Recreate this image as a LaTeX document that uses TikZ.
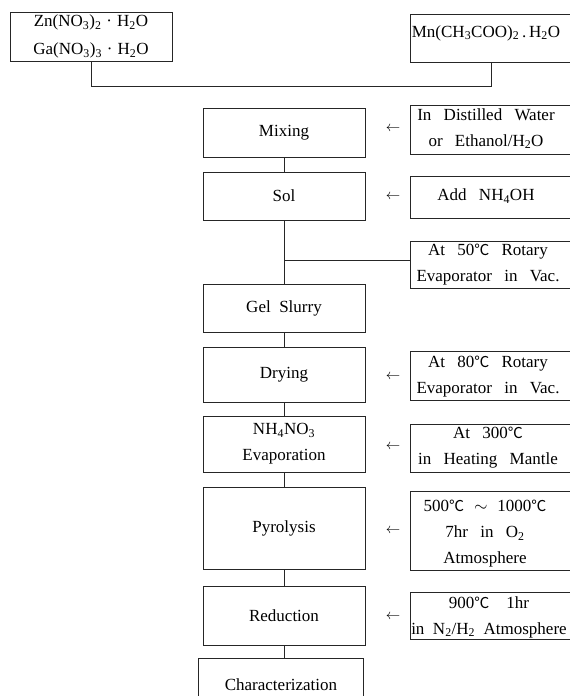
\documentclass[tikz,border=0pt]{standalone}
\usepackage{fontspec}
\setmainfont{Liberation Serif}
\newfontfamily\cjkf{Noto Sans CJK KR}
\newcommand{\dgc}{{\cjkf\fontsize{15}{15}\selectfont ℃}}
\newcommand{\sbs}[1]{\textsubscript{#1}}
\newcommand{\mainf}{\fontsize{17}{26}\selectfont\spaceskip=0.5em plus 0.1em minus 0.05em\relax}
\newcommand{\sidef}{\fontsize{17}{26}\selectfont\spaceskip=0.72em plus 0.1em minus 0.05em\relax}
\tikzset{
  ln/.style={draw=black!85, line width=0.7pt},
  box/.style={ln, minimum width=162pt, inner sep=0pt, align=center, font=\mainf},
  side/.style={ln, minimum width=164pt, inner sep=0pt},
  stxt/.style={align=center, inner sep=0pt, font=\sidef},
  arr/.style={inner sep=0pt, font=\fontsize{14}{14}\selectfont},
}
\begin{document}
\begin{tikzpicture}[x=1pt,y=-1pt]
\useasboundingbox (0,0) rectangle (570,696);
\clip (0,0) rectangle (570,696);
% top source boxes
\node[box, minimum height=49pt] (zn) at (91,36.5) {Zn(NO\sbs3)\sbs2\hspace{5pt}·\hspace{5pt}H\sbs2O\\[2pt]Ga(NO\sbs3)\sbs3\hspace{5pt}·\hspace{5pt}H\sbs2O};
\node[side, minimum height=48pt] (mn) at (492,38) {};
\node[stxt] (mnt) at (486,33) {Mn(CH\sbs3COO)\sbs2\,.\,H\sbs2O};
\draw[ln] (zn.south) -- ++(0,25) -| (mn.south -| 491,0);
% main column
\node[box, minimum height=49pt] (mix) at (284,132.5) {Mixing};
\node[box, minimum height=48pt] (sol) at (284,196) {Sol};
\node[box, minimum height=48pt] (gel) at (284,308) {Gel\ Slurry};
\node[box, minimum height=55pt] (dry) at (284,374.5) {Drying};
\node[box, minimum height=56pt] (evap) at (284,444) {NH\sbs4NO\sbs3\\Evaporation};
\node[box, minimum height=82pt] (pyro) at (284,528) {Pyrolysis};
\node[box, minimum height=59pt] (red) at (284,615.5) {Reduction};
\node[box, minimum height=54pt, minimum width=165pt] (char) at (281,685) {Characterization};
\draw[ln] (mix.south) -- (mix.south |- sol.north);
\draw[ln] (sol.south) -- (sol.south |- gel.north);
\draw[ln] (gel.south) -- (gel.south |- dry.north);
\draw[ln] (dry.south) -- (dry.south |- evap.north);
\draw[ln] (evap.south) -- (evap.south |- pyro.north);
\draw[ln] (pyro.south) -- (pyro.south |- red.north);
\draw[ln] (red.south) -- (red.south |- char.north);
% side condition boxes
\node[side, minimum height=49pt] (f1) at (492,129.5) {};
\node[side, minimum height=42pt] (f2) at (492,197) {};
\node[side, minimum height=47pt] (f3) at (492,264.5) {};
\node[side, minimum height=49pt] (f4) at (492,375.5) {};
\node[side, minimum height=48pt] (f5) at (492,448) {};
\node[side, minimum height=79pt] (f6) at (492,530.5) {};
\node[side, minimum height=47pt] (f7) at (492,615.5) {};
\node[stxt] (t1) at (486,128.5) {In Distilled Water\\or Ethanol/H\sbs2O};
\node[stxt] (t2) at (486,196) {Add NH\sbs4OH};
\node[stxt] (t3) at (488,264.5) {At 50\dgc\ Rotary\\Evaporator in Vac.};
\node[stxt] (t4) at (488,377) {At 80\dgc\ Rotary\\Evaporator in Vac.};
\node[stxt] (t5) at (488,448) {At 300\dgc\\in Heating Mantle};
\node[stxt] (t6) at (485,534) {500\dgc\hspace{10pt}$\sim$\hspace{10pt}1000\dgc\\7hr in O\sbs2\\Atmosphere};
\node[stxt, font=\mainf] (t7) at (489,617) {900\dgc\ \ 1hr\\in N\sbs2/H\sbs2\ Atmosphere};
\draw[ln] ([yshift=4pt]f3.west) -- ([yshift=4pt]f3.west -| sol.south);
% arrows
\node[arr] (a1) at (393,129) {$\leftarrow$};
\node[arr] (a2) at (393,197) {$\leftarrow$};
\node[arr] (a4) at (393,377) {$\leftarrow$};
\node[arr] (a5) at (393,447) {$\leftarrow$};
\node[arr] (a6) at (393,531) {$\leftarrow$};
\node[arr] (a7) at (393,617) {$\leftarrow$};
\end{tikzpicture}
\end{document}
